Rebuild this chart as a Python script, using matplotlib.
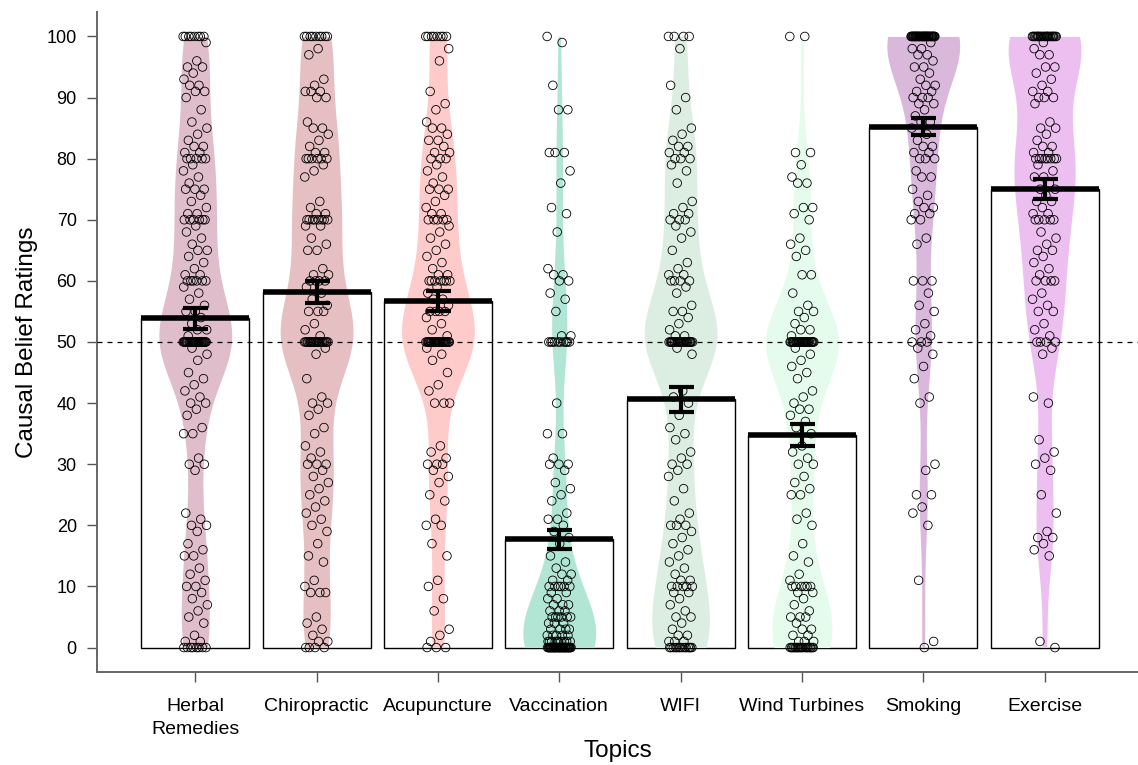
import numpy as np
import matplotlib

matplotlib.use("Agg")
import matplotlib.pyplot as plt

plt.rcParams["font.family"] = ["Liberation Sans", "DejaVu Sans"]

topics = ["Herbal\nRemedies", "Chiropractic", "Acupuncture", "Vaccination",
          "WIFI", "Wind Turbines", "Smoking", "Exercise"]
means = [53.9, 58.2, 56.7, 17.7, 40.6, 34.8, 85.2, 75.0]
sems = [1.7, 1.8, 1.6, 1.6, 2.0, 1.8, 1.4, 1.6]
violin_colors = ["#e0bdcb", "#e5bfc1", "#ffcaca", "#b2e6d4",
                 "#dceee2", "#e5fcec", "#dab8dc", "#edbff1"]

# individual ratings; stacked points at round values are estimated
herbal = ([100] * 8 + [99, 96, 95, 95, 94, 93, 92, 92, 91, 91, 90, 88, 86, 85,
          84, 83, 82, 82, 81, 81] + [80] * 5 + [79, 78, 77, 76, 75, 75, 75,
          74, 73, 72, 71, 71] + [70] * 6 + [69, 68, 67, 66, 65, 65,
          64, 63, 62, 61, 61] + [60] * 6 + [59, 58, 57, 56, 55, 55,
          54, 53, 52, 52, 51] + [50] * 30 + [49, 48, 47, 45, 44, 43, 42, 41, 40,
          40, 39, 38, 36, 35, 35, 31, 30, 30, 29, 22, 21, 20, 20, 19, 17, 16,
          15, 15, 13, 12, 11, 10, 10, 9, 8, 7, 6, 5, 4, 2, 1, 1] + [0] * 8)
chiropractic = ([100] * 9 + [98, 97, 93, 92, 91, 91, 91, 90, 90, 86, 85, 85,
                84, 83, 82, 81, 81] + [80] * 6 + [79, 78, 77, 73, 72, 71, 71] +
                [70] * 8 + [69, 69, 67, 66, 65, 65, 62, 61, 61, 60, 60,
                60, 60, 59, 58, 57, 56, 55, 55, 55, 53, 52, 51] + [50] * 22 +
                [49, 48, 44, 41, 40, 40, 39, 38, 36, 35, 33, 32, 31, 30, 30, 30,
                 29, 28, 27, 26, 25, 24, 23, 22, 21, 20, 19, 17, 15, 14, 11, 10,
                 9, 9, 9, 5, 4, 3, 2, 1, 1, 0, 0, 0, 0])
acupuncture = ([100] * 8 + [98, 96, 91, 89, 88, 86, 85, 85, 84, 83, 83, 82,
               81, 81, 80, 80, 80, 79, 78, 77, 76, 75, 75, 75, 74, 73, 72, 71,
               71, 70, 70, 70, 70, 70, 69, 68, 67, 66, 65, 64, 63, 62, 61, 61] +
               [60] * 7 + [59, 58, 57, 57, 56, 55, 55, 55, 55, 54, 53, 52, 51] +
               [50] * 30 + [49, 48, 47, 45, 43, 42, 40, 40, 40, 33, 32, 31, 30,
               30, 30, 29, 28, 27, 25, 24, 21, 20, 20, 17, 15, 11, 10, 8, 6, 3,
               2, 1, 0, 0, 0])
vaccination = ([100, 99, 92, 88, 88, 81, 81, 81, 78, 76, 72, 71, 68, 62, 61,
               61, 60, 60, 58, 57, 55, 51, 51] + [50] * 10 + [40, 35, 35, 31,
               30, 30, 30, 29, 27, 26, 25, 24, 22, 21, 21, 20, 19, 18, 17, 15,
               14, 13, 12, 12, 11, 11] + [10] * 6 + [9, 9, 8, 8, 7, 7, 7,
               6, 6, 6] + [5] * 6 + [4, 4, 4, 3, 3, 3, 3, 2, 2, 2, 2, 2] +
               [1] * 10 + [0] * 40)
wifi = ([100] * 4 + [98, 92, 90, 88, 85, 84, 83, 82, 82, 81, 81, 80, 80, 80, 79,
        78, 76, 73, 72, 71, 71, 70, 70, 70, 69, 68, 67, 65, 63, 62, 61, 61, 60,
        60, 60, 60, 59, 58, 56, 55, 55, 54, 53, 52, 51, 51] + [50] * 25 + [49,
        48, 42, 41, 40, 38, 36, 35, 34, 32, 31, 30, 30, 29, 28, 26, 24, 22, 21,
        20, 20, 20, 19, 18, 17, 16, 15, 14, 13, 12, 11, 11, 10, 10, 10, 10, 10,
        9, 9, 8, 7, 6, 5, 5, 4, 3, 2, 2, 1, 1, 1] + [0] * 14)
wind = ([100, 100, 81, 81, 79, 77, 76, 76, 72, 72, 71, 70, 67, 66, 65, 64, 61,
        61, 58, 56, 55, 55, 54, 53, 52, 52, 51] + [50] * 30 + [49, 48, 47, 46,
        45, 44, 42, 41, 40, 39, 39, 38, 37, 36, 35, 33, 32, 31, 30, 30, 28, 27,
        26, 25, 25, 22, 21, 20, 17, 15, 14, 12, 11] + [10] * 6 + [9, 9, 8, 7,
        6, 5, 5, 5, 4, 3, 3, 2, 2, 1, 1, 1] + [0] * 20)
smoking = ([100] * 45 + [99, 98, 98, 97, 97, 96, 95, 95, 94, 93, 92, 92, 91,
           91, 90, 90, 90, 89, 89, 88, 87, 86, 86, 85, 84, 83, 82, 82, 81, 81,
           80, 80, 80, 78, 77, 77, 75, 74, 73, 72, 72, 71, 71, 70, 70, 67, 66,
           60, 60, 60, 58, 56, 55, 53, 52, 51, 50, 50, 50, 49, 48, 46, 44, 41,
           40, 30, 29, 25, 25, 23, 22, 20, 11, 1, 0])
exercise = ([100] * 25 + [99, 98, 97, 97, 95, 95, 94, 93, 92, 91, 91, 90, 90,
            90, 89, 86, 85, 85, 84, 83, 82, 82, 81, 81] + [80] * 8 + [79, 78,
            77, 77, 76, 75, 75, 74, 73, 73, 72, 71, 71, 70, 70, 70, 70, 70, 68,
            67, 66, 65, 65, 64, 63, 62, 61, 60, 60, 60, 60, 58, 57, 56, 55, 55,
            53, 52, 51, 50, 50, 50, 50, 49, 48, 41, 40, 34, 32, 31, 30, 29, 25,
            22, 19, 18, 18, 17, 16, 15, 1, 0])
ratings = [herbal, chiropractic, acupuncture, vaccination, wifi, wind, smoking, exercise]


def density(vals, grid, h=6.5):
    v = np.asarray(vals, dtype=float)
    z = (grid[:, None] - v[None, :]) / h
    return np.exp(-0.5 * z ** 2).sum(axis=1)


fig = plt.figure(figsize=(11.38, 7.65), dpi=100)
ax = fig.add_axes([97 / 1138, 93 / 765, 1041 / 1138, 660 / 765])

x = np.arange(1, len(topics) + 1)
ax.bar(x, means, width=0.89, color="white", edgecolor="black", lw=1.0, zorder=1)

for i, vals in enumerate(ratings):
    grid = np.linspace(min(vals), max(vals), 300)
    d = density(vals, grid)
    half = 0.30 * d / d.max()
    ax.fill_betweenx(grid, x[i] - half, x[i] + half, color=violin_colors[i], lw=0, zorder=2)

ax.axhline(50, color="black", lw=0.9, ls=(0, (4, 4)), zorder=3)

golden = 0.6180339887
for i, vals in enumerate(ratings):
    k = np.arange(len(vals))
    jit = ((k * golden) % 1.0 - 0.5) * 0.2
    ax.scatter(x[i] + jit, vals, s=38, facecolors="none", edgecolors="black",
               linewidths=0.6, zorder=4)

ax.hlines(means, x - 0.445, x + 0.445, color="black", lw=4, zorder=5)
ax.errorbar(x, means, yerr=sems, fmt="none", ecolor="black", elinewidth=3,
            capsize=9, capthick=3, zorder=6)

ax.set_xlim(0.19, 8.77)
ax.set_ylim(-4, 104)
ax.set_yticks(range(0, 101, 10))
ax.set_xticks(x)
ax.set_xticklabels(topics)
for lbl in ax.get_xticklabels():
    lbl.set_linespacing(1.45)
ax.tick_params(axis="both", length=7.5, width=1.0, color="#555555")
ax.tick_params(axis="x", labelsize=14, pad=11)
ax.tick_params(axis="y", labelsize=13, pad=7)
for side in ("top", "right"):
    ax.spines[side].set_visible(False)
for side in ("left", "bottom"):
    ax.spines[side].set_color("#666666")
    ax.spines[side].set_linewidth(1.4)

ax.set_xlabel("Topics", fontsize=17.5, labelpad=2)
ax.set_ylabel("Causal Belief Ratings", fontsize=17.5, labelpad=6)

fig.savefig("out.png", dpi=100)
